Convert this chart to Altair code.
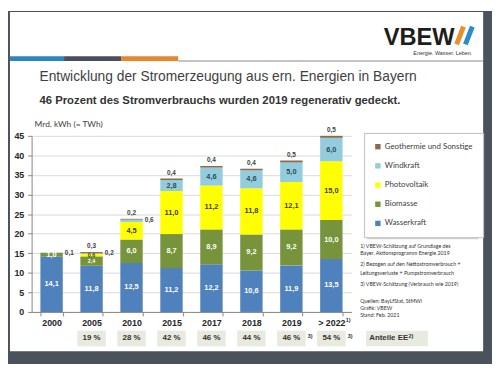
import altair as alt
import pandas as pd

# ---------------- data ----------------
years = ["2000", "2005", "2010", "2015", "2017", "2018", "2019", "> 2022"]
wasserkraft = [14.1, 11.8, 12.5, 11.2, 12.2, 10.6, 11.9, 13.5]
biomasse = [1.0, 2.4, 6.0, 8.7, 8.9, 9.2, 9.2, 10.0]
photovoltaik = [0.0, 0.6, 4.5, 11.0, 11.2, 11.8, 12.1, 15.0]
windkraft = [0.1, 0.2, 0.6, 2.8, 4.6, 4.6, 5.0, 6.0]
geothermie = [0.0, 0.3, 0.2, 0.4, 0.4, 0.4, 0.5, 0.5]
shares = ["", "19 %", "28 %", "42 %", "46 %", "44 %", "46 %", "54 %"]
share_notes = ["", "", "", "", "", "", "3)", "3)"]
year_notes = ["", "", "", "", "", "", "", "1)"]
y_ticks = [0, 5, 10, 15, 20, 25, 30, 35, 40, 45]

series_names = ["Wasserkraft", "Biomasse", "Photovoltaik", "Windkraft", "Geothermie und Sonstige"]
series_values = [wasserkraft, biomasse, photovoltaik, windkraft, geothermie]
series_colors = ["#4f81bd", "#77933c", "#ffff00", "#93cddd", "#8b6a4b"]
label_colors = ["#ffffff", "#ffffff", "#404040", "#2e4a5a", "#404040"]

legend_order = series_names[::-1]
legend_colors = series_colors[::-1]

footnote1 = ["1) VBEW-Schätzung auf Grundlage des", "    Bayer. Aktionsprogramm Energie 2019"]
footnote2 = ["2) Bezogen auf den Nettostromverbrauch +", "    Leitungsverluste + Pumpstromverbrauch"]
footnote3 = ["3) VBEW-Schätzung (Verbrauch wie 2019)"]
sources = ["Quellen: BayLfStat, StMWi", "Grafik: VBEW", "Stand: Feb. 2021"]

title_text = "Entwicklung der Stromerzeugung aus ern. Energien in Bayern"
subtitle_text = "46 Prozent des Stromverbrauchs wurden 2019 regenerativ gedeckt."

# ---------------- tables ----------------
rows = []
for i, yr in enumerate(years):
    for rank, (name, vals) in enumerate(zip(series_names, series_values)):
        v = vals[i]
        if name == "Geothermie und Sonstige":
            pos = "top"
        elif name == "Windkraft" and v < 1:
            pos = "right"
        else:
            pos = "in"
        rows.append({
            "year": yr, "source": name, "value": v, "rank": rank,
            "label": f"{v:.1f}".replace(".", ",") if v > 0 else "",
            "pos": pos if v > 0 else "none",
            "tcolor": label_colors[rank],
            "small": bool(v < 1 or (yr == "2005" and v < 3)),
        })
df = pd.DataFrame(rows)
share_df = pd.DataFrame({"year": years, "share": shares, "note": share_notes, "ynote": year_notes})
one = pd.DataFrame({"a": [0]})

FONT = "Liberation Sans"
SCALE_X = alt.Scale(domain=years, paddingInner=0.44, paddingOuter=0.22)
SCALE_Y = alt.Scale(domain=[0, 45], nice=False, zero=True)

X_AXIS = alt.Axis(title=None, labelAngle=0, labelFont=FONT, labelFontWeight="bold",
                  labelFontSize=9, labelColor="#262626", domainColor="#868686",
                  tickColor="#868686", tickSize=4, tickBand="extent", labelPadding=3,
                  grid=False)
Y_AXIS = alt.Axis(values=y_ticks, title=None, grid=True, gridColor="#d9d9d9",
                  domainColor="#868686", tickColor="#868686", tickSize=4,
                  labelFont=FONT, labelFontWeight="bold", labelFontSize=9,
                  labelColor="#262626", labelPadding=4)


def xenc():
    return alt.X("year:N", sort=years, scale=SCALE_X, axis=X_AXIS)


def yenc(field, **kw):
    return alt.Y(field, scale=SCALE_Y, axis=Y_AXIS, **kw)


def rect(x, x2, y, y2, color):
    return alt.Chart(one).mark_rect(color=color).encode(
        x=alt.value(x), x2=alt.value(x2), y=alt.value(y), y2=alt.value(y2))


def text(x, y, t, **kw):
    return alt.Chart(one).mark_text(text=t, **kw).encode(x=alt.value(x), y=alt.value(y))


DARK = "#4a525c"

# ---------------- decorations ----------------
frame = [
    rect(-24, -22, -127, 232, DARK),
    rect(-24, 468, -127, -126, DARK),
    rect(459, 468, -127, 232, DARK),
    rect(-24, 468, 219, 232, DARK),
]
header = [
    rect(149, 459, -76.5, -75.5, "#8c8c8c"),
    rect(-22, 33, -81, -76, "#2b87bd"),
    rect(33, 91, -81, -76, "#4a4f5c"),
    rect(91, 149, -81, -76, "#e4892f"),
    text(358, -92, "VBEW", font=FONT, fontSize=24, fontWeight="bold", color="#1d1d1b",
         align="left", baseline="alphabetic"),
    alt.Chart(one).mark_rule(color="#e8912c", strokeWidth=5, strokeCap="butt").encode(
        x=alt.value(432), y=alt.value(-93), x2=alt.value(439), y2=alt.value(-111)),
    alt.Chart(one).mark_rule(color="#2b8ccc", strokeWidth=5, strokeCap="butt").encode(
        x=alt.value(441), y=alt.value(-93), x2=alt.value(448), y2=alt.value(-111)),
    text(448, -84.5, "Energie. Wasser. Leben.", font=FONT, fontSize=5.5, color="#333333",
         align="right", baseline="middle"),
    text(8, -60, title_text, font=FONT, fontSize=14, color="#3f3f3f", align="left", baseline="middle"),
    text(8, -35, subtitle_text, font=FONT, fontSize=11.5, fontWeight="bold", color="#333333",
         align="left", baseline="middle"),
    text(3, -12, "Mrd. kWh (= TWh)", font="Lato", fontSize=8.5, color="#404040",
         align="left", baseline="middle"),
]

# ---------------- bars ----------------
bars = alt.Chart(df).mark_bar().encode(
    x=xenc(),
    y=yenc("value:Q", stack="zero"),
    color=alt.Color("source:N", scale=alt.Scale(domain=legend_order, range=legend_colors),
                    legend=alt.Legend(orient="none", legendX=338, legendY=-3, title=None,
                                      symbolType="square", symbolSize=30, symbolStrokeWidth=0,
                                      labelFont="Lato", labelFontSize=8, labelColor="#404040",
                                      rowPadding=11.5, padding=10, fillColor="white",
                                      strokeColor="#bfbfbf", labelOffset=3, labelLimit=200)),
    order=alt.Order("rank:Q", sort="ascending"),
)

stacked = alt.Chart(df).transform_stack(
    stack="value", groupby=["year"], sort=[alt.SortField("rank", order="ascending")],
    as_=["v0", "v1"]
).transform_calculate(mid="(datum.v0 + datum.v1) / 2")

labels_in = stacked.transform_filter("datum.pos == 'in' && !datum.small").mark_text(
    font=FONT, fontSize=7.5, fontWeight="bold", baseline="middle"
).encode(x=xenc(), y=yenc("mid:Q"), text="label:N",
         color=alt.Color("tcolor:N", scale=None))
labels_in_small = stacked.transform_filter("datum.pos == 'in' && datum.small").mark_text(
    font=FONT, fontSize=5.5, fontWeight="bold", baseline="middle"
).encode(x=xenc(), y=yenc("mid:Q"), text="label:N",
         color=alt.Color("tcolor:N", scale=None))

totals = alt.Chart(df).transform_joinaggregate(total="sum(value)", groupby=["year"])
labels_top = totals.transform_filter("datum.pos == 'top'").mark_text(
    font=FONT, fontSize=6.5, fontWeight="bold", color="#404040", baseline="middle", dy=-6
).encode(x=xenc(), y=yenc("total:Q"), text="label:N")
labels_right = totals.transform_filter("datum.pos == 'right'").mark_text(
    font=FONT, fontSize=6.5, fontWeight="bold", color="#404040", baseline="middle", dx=18, dy=1
).encode(x=xenc(), y=yenc("total:Q"), text="label:N")

# ---------------- share boxes ----------------
sh = alt.Chart(share_df).transform_filter("datum.share != ''")
share_boxes = sh.mark_bar(width=29, color="#e9eadf").encode(
    x=xenc(), y=alt.value(198), y2=alt.value(214))
share_text = sh.mark_text(font=FONT, fontSize=8, fontWeight="bold", color="#333333",
                          baseline="middle").encode(x=xenc(), y=alt.value(206), text="share:N")
share_sup = alt.Chart(share_df).transform_filter("datum.note != ''").mark_text(
    font=FONT, fontSize=5.5, fontWeight="bold", color="#333333", baseline="middle", dx=19
).encode(x=xenc(), y=alt.value(203), text="note:N")
year_sup = alt.Chart(share_df).transform_filter("datum.ynote != ''").mark_text(
    font=FONT, fontSize=5.5, fontWeight="bold", color="#333333", baseline="middle", dx=17
).encode(x=xenc(), y=alt.value(187), text="ynote:N")

anteile = [
    rect(340, 403, 198, 214, "#e9eadf"),
    text(363, 206, "Anteile EE", font=FONT, fontSize=8, fontWeight="bold", color="#333333",
         align="center", baseline="middle"),
    text(383, 203, "2)", font=FONT, fontSize=5.5, fontWeight="bold", color="#333333",
         align="left", baseline="middle"),
]

legend_shadow = [rect(341, 454, 0, 105, "#d4d4d4")]

notes = [
    text(334, 112, footnote1, font="Lato", fontSize=5.4, color="#333333", align="left",
         baseline="middle", lineHeight=7.5),
    text(334, 130.5, footnote2, font="Lato", fontSize=5.4, color="#333333", align="left",
         baseline="middle", lineHeight=8.5),
    text(334, 150.5, footnote3, font="Lato", fontSize=5.4, color="#333333", align="left",
         baseline="middle"),
    text(334, 167.5, sources, font="Lato", fontSize=5.4, color="#333333", align="left",
         baseline="middle", lineHeight=7.5),
]

chart = alt.layer(
    bars, *frame, *header, *legend_shadow, labels_in, labels_in_small, labels_top, labels_right,
    share_boxes, share_text, share_sup, year_sup, *anteile, *notes
).properties(
    width=325, height=179,
    autosize=alt.AutoSizeParams(type="none"),
    padding={"left": 24, "top": 127, "right": 143, "bottom": 53},
    background="white",
).configure_view(stroke=None)

chart.save("out.html", embed_options={"renderer": "svg", "actions": False})
